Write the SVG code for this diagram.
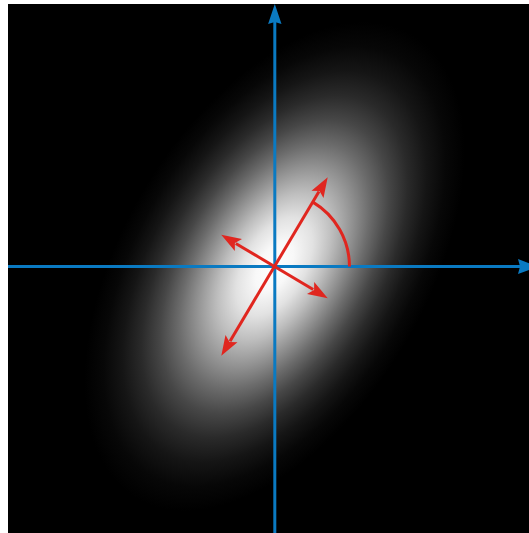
<svg xmlns="http://www.w3.org/2000/svg" width="529" height="533" viewBox="0 0 529 533">
  <defs>
    <radialGradient id="blob" cx="0.5" cy="0.5" r="0.5">
      <stop offset="0" stop-color="#ffffff"/>
      <stop offset="0.1" stop-color="#f8f8f8"/>
      <stop offset="0.2" stop-color="#e2e2e2"/>
      <stop offset="0.3" stop-color="#bebebe"/>
      <stop offset="0.4" stop-color="#959595"/>
      <stop offset="0.5" stop-color="#6c6c6c"/>
      <stop offset="0.6" stop-color="#474747"/>
      <stop offset="0.7" stop-color="#2a2a2a"/>
      <stop offset="0.8" stop-color="#151515"/>
      <stop offset="0.9" stop-color="#070707"/>
      <stop offset="1" stop-color="#000000"/>
    </radialGradient>
  </defs>
  <style>
    .axis { stroke: #0a7ac2; stroke-width: 3; fill: none; }
    .axis-head { fill: #0a7ac2; }
    .red { stroke: #e0261f; stroke-width: 3; fill: none; }
    .red-head { fill: #e0261f; }
  </style>
  <rect x="0" y="0" width="529" height="533" fill="#ffffff"/>
  <g id="image">
    <rect x="8" y="4" width="521" height="529" fill="#000000"/>
    <ellipse cx="0" cy="0" rx="270" ry="152" fill="url(#blob)" transform="translate(274.5,266.5) rotate(-59.2)"/>
  </g>
  <g id="connectors">
    <g id="x-axis">
      <line class="axis" x1="8" y1="266.5" x2="521" y2="266.5"/>
      <polygon class="axis-head" points="538,266.5 518,259 520,266.5 518,274"/>
    </g>
    <g id="y-axis">
      <line class="axis" x1="274.8" y1="533" x2="274.8" y2="21"/>
      <polygon class="axis-head" points="274.8,4 281.5,24 274.8,22 268.1,24"/>
    </g>
    <g id="major">
      <line class="red" x1="230.0" y1="341.2" x2="319.0" y2="191.6"/>
      <polygon class="red-head" points="327.7,177.2 323.5,198.0 319.5,190.9 311.5,190.8"/>
      <polygon class="red-head" points="221.3,355.8 237.5,342.2 229.5,342.1 225.5,335.0"/>
    </g>
    <g id="minor">
      <line class="red" x1="235.8" y1="243.5" x2="313.2" y2="289.5"/>
      <polygon class="red-head" points="327.8,298.2 307.0,294.0 314.1,290.0 314.2,281.9"/>
      <polygon class="red-head" points="221.2,234.8 234.8,251.0 234.9,243.0 242.0,239.0"/>
    </g>
    <path id="angle-arc" class="red" d="M349.5,266.5 A75,75 0 0 0 312.9,202.1"/>
  </g>
</svg>
